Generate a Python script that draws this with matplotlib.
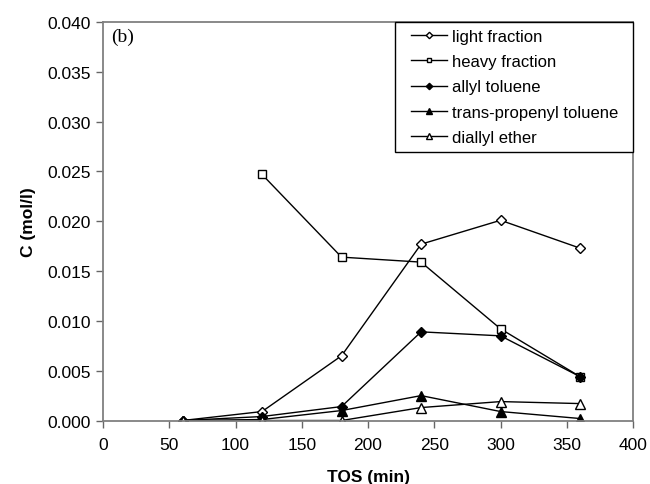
import matplotlib
matplotlib.use('Agg')
import matplotlib.pyplot as plt
from matplotlib.patches import Rectangle
from matplotlib.transforms import IdentityTransform

# ---------- data ----------
tos = [60, 120, 180, 240, 300, 360]
tos_heavy = [120, 180, 240, 300, 360]

light_fraction = [0.0000, 0.0009, 0.0065, 0.0177, 0.0201, 0.0173]
heavy_fraction = [0.0247, 0.0164, 0.0159, 0.0092, 0.0044]
allyl_toluene = [0.0000, 0.0004, 0.0014, 0.0089, 0.0085, 0.0044]
trans_propenyl = [0.0000, 0.0001, 0.0010, 0.0025, 0.0009, 0.0002]
diallyl_ether = [0.0000, 0.0000, 0.0000, 0.0013, 0.0019, 0.0017]

x_ticks = [0, 50, 100, 150, 200, 250, 300, 350, 400]
y_ticks = [0.000, 0.005, 0.010, 0.015, 0.020, 0.025, 0.030, 0.035, 0.040]

plt.rcParams['font.family'] = ['Liberation Sans', 'DejaVu Sans']
FS = 12.5

fig = plt.figure(figsize=(6.5, 4.85), dpi=100)
ax = fig.add_axes([0.1585, 0.1309, 0.8155, 0.8216])

# ---------- series ----------
series = [
    (tos, light_fraction, 'D', 'white', 5.0, 'light fraction'),
    (tos_heavy, heavy_fraction, 's', 'white', 5.5, 'heavy fraction'),
    (tos, allyl_toluene, 'D', 'black', 5.0, 'allyl toluene'),
    (tos, trans_propenyl, '^', 'black', 7.0, 'trans-propenyl toluene'),
    (tos, diallyl_ether, '^', 'white', 7.0, 'diallyl ether'),
]
for x, y, m, fc, ms, lab in series:
    ax.plot(x, y, marker=m, mfc=fc, mec='black', markersize=ms,
            markeredgewidth=1.0, color='black', lw=1.0, label=lab)

ax.set_xlim(0, 400)
ax.set_ylim(0, 0.040)
ax.set_xticks(x_ticks)
ax.set_yticks(y_ticks)
ax.set_yticklabels([f"{v:.3f}" for v in y_ticks])
ax.tick_params(direction='out', length=5, width=1, color='#666666', labelsize=FS)
ax.tick_params(axis='x', pad=7)
ax.tick_params(axis='y', pad=3.5)

for s in ax.spines.values():
    s.set_color('#808080')
    s.set_linewidth(1.3)

ax.set_xlabel('TOS (min)', fontsize=FS, fontweight='bold', labelpad=12)
ax.set_ylabel('C (mol/l)', fontsize=FS, fontweight='bold', labelpad=8)

ax.text(0.016, 0.987, '(b)', transform=ax.transAxes, ha='left', va='top',
        fontsize=14, family='Liberation Serif')

# ---------- legend ----------
leg = ax.legend(loc='upper right', bbox_to_anchor=(0.985, 1.0), fontsize=12,
                frameon=False, handlelength=2.2, handletextpad=0.3,
                labelspacing=0.62, borderpad=0.4, borderaxespad=0.0,
                markerscale=0.65)

# box behind the legend, padded wider on the left, flush with the axes corner
fig.canvas.draw()
bb = leg.get_window_extent()
ax_bb = ax.get_window_extent()
x0 = bb.x0 - 9
frame = Rectangle((x0, bb.y0), ax_bb.x1 - x0, ax_bb.y1 - bb.y0,
                  transform=IdentityTransform(), facecolor='white',
                  edgecolor='black', lw=1.0, zorder=4, clip_on=False)
ax.add_patch(frame)

fig.savefig('out.png', dpi=100)
